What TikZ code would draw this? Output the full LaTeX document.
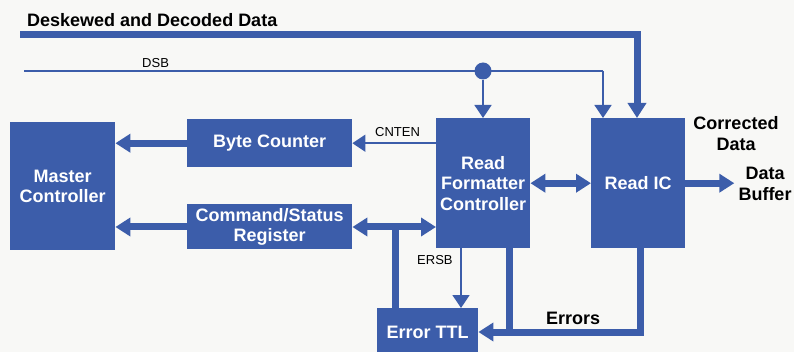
\documentclass[tikz,border=0pt]{standalone}
\usepackage{fontspec}
\setmainfont{Liberation Sans}
\usetikzlibrary{arrows.meta}
\definecolor{hpblue}{RGB}{60,93,170}
\definecolor{bgc}{RGB}{248,248,246}
\begin{document}
\begin{tikzpicture}[x=1pt,y=-1pt,
  box/.style={fill=hpblue, draw=none, text=white, align=center, inner sep=0pt,
    anchor=north west, font=\bfseries\fontsize{18}{20.5}\selectfont},
  lbl/.style={text=black, inner sep=0pt, font=\bfseries\fontsize{18}{21}\selectfont, align=center},
  slbl/.style={text=black, inner sep=0pt, font=\fontsize{13}{15}\selectfont},
  bus/.style={draw=hpblue, line width=7pt},
  sig/.style={draw=hpblue, line width=1.5pt},
  tipA/.style={-{Triangle[length=15pt,width=18pt]}},
  tipB/.style={{Triangle[length=15pt,width=18pt]}-{Triangle[length=15pt,width=18pt]}},
  tipS/.style={-{Triangle[length=13pt,width=17pt]}},
]
\fill[bgc] (0,0) rectangle (794,352);
\useasboundingbox (0,0) rectangle (794,352);

% boxes
\node[box, minimum width=105pt, minimum height=128pt] (mc) at (10,122) {Master\\Controller};
\node[box, minimum width=165pt, minimum height=48pt] (bc) at (187,119) {Byte Counter};
\node[box, minimum width=165pt, minimum height=45pt] (csr) at (187,204) {Command/Status\\Register};
\node[box, minimum width=94pt, minimum height=130pt] (rfc) at (436,118) {Read\\Formatter\\Controller};
\node[box, minimum width=94pt, minimum height=130pt] (ric) at (591,118) {Read IC};
\node[box, minimum width=101pt, minimum height=48pt] (ettl) at (377,308) {Error TTL};

% labels
\node[lbl, anchor=base west] (ddl) at (27,27) {Deskewed and Decoded Data};
\node[slbl, anchor=base west] (dsbl) at (142,68) {DSB};
\node[slbl, anchor=base west] (cnl) at (375,137) {CNTEN};
\node[slbl, anchor=base west] (erl) at (417,265) {ERSB};
\node[lbl, anchor=base west] (errl) at (546,324) {Errors};
\node[lbl, anchor=north] (cdl) at (736,116) {Corrected\\Data};
\node[lbl, inner sep=4pt] (db) at (765,184) {Data\\Buffer};

% coordinates
\coordinate (ds0) at (20,35);
\coordinate (dsc) at (637,35);
\coordinate (sb0) at (24,71);
\coordinate (sbc) at (603,71);
\node[circle, fill=hpblue, minimum size=17pt, inner sep=0pt] (dot) at (483,71) {};
\coordinate (j1) at (395.5,227);
\coordinate (es) at (461,0);
\coordinate (ef) at (509.5,332);
\coordinate (er) at (640.5,332);

% Deskewed and Decoded Data bus
\draw[bus, tipA] (ds0) -- (dsc) -- (dsc |- ric.north);
% DSB
\draw[sig] (sb0) -- (sbc);
\draw[sig, tipS] (sbc) -- (sbc |- ric.north);
\draw[sig, tipS] (dot) -- (dot |- rfc.north);

% Byte counter / CNTEN
\draw[bus, tipA] (bc.west) -- (bc.west -| mc.east);
\draw[sig, tipS] (bc.east -| rfc.west) -- (bc.east);
% Command/status
\draw[bus, tipA] (csr.west |- j1) -- (j1 -| mc.east);
\draw[bus, tipB] (csr.east |- j1) -- (j1 -| rfc.west);
\draw[bus] (j1 |- ettl.north) -- (j1);
% RFC <-> Read IC
\draw[bus, tipB] (rfc.east) -- (ric.west);
% Read IC -> Data Buffer
\draw[bus, tipA] (ric.east) -- (db.west |- ric.east);
% ERSB
\draw[sig, tipS] (es |- rfc.south) -- (es |- ettl.north);
% Errors
\draw[bus] (ef |- rfc.south) -- (ef);
\draw[bus, tipA] (er |- ric.south) -- (er) -- (ettl.east |- er);
\end{tikzpicture}
\end{document}
